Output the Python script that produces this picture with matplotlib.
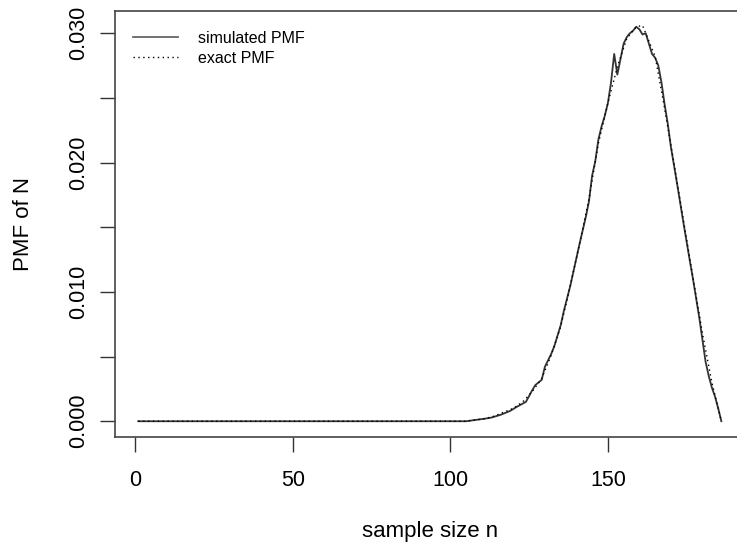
import matplotlib
matplotlib.use('Agg')
import matplotlib.pyplot as plt
import numpy as np

plt.rcParams['font.family'] = ['Liberation Sans', 'DejaVu Sans']

# simulated PMF
sim_n = [1, 105, 108, 111, 113, 116, 119, 121, 124, 126, 127, 129, 130, 132, 133,
         135, 136, 138, 139, 141, 143, 144, 145, 146, 147, 148, 149, 150, 151, 152,
         153, 154, 155, 156, 157, 158, 159, 160, 161, 162, 163, 164, 165, 166, 167,
         168, 169, 170, 172, 174, 176, 177, 179, 181, 182, 183, 184, 185, 186]
sim_pmf = [0.0, 0.0, 0.0001, 0.0002, 0.00028, 0.0005, 0.0008, 0.0011, 0.0015, 0.0024,
           0.0028, 0.0032, 0.0042, 0.0052, 0.0058, 0.0074, 0.0085, 0.0104, 0.0115,
           0.0137, 0.0158, 0.0170, 0.0190, 0.0201, 0.0218, 0.0228, 0.0236, 0.0246,
           0.0262, 0.0284, 0.0268, 0.0280, 0.0292, 0.0297, 0.0300, 0.0302, 0.0305,
           0.0303, 0.0299, 0.0300, 0.0292, 0.0284, 0.0281, 0.0275, 0.0262, 0.0245,
           0.0230, 0.0212, 0.0183, 0.0153, 0.0124, 0.0110, 0.0080, 0.0046, 0.0035,
           0.0026, 0.0019, 0.0010, 0.0]

# exact PMF
exact_n = [1, 105, 108, 111, 114, 117, 120, 123, 126, 129, 132, 135, 138, 141, 144,
           147, 150, 153, 156, 159, 161, 162, 165, 168, 171, 174, 177, 180, 183, 186]
exact_pmf = [0.0, 0.0, 0.0001, 0.0002, 0.0004, 0.0007, 0.0010, 0.0015, 0.0023, 0.0033,
             0.0051, 0.0073, 0.0104, 0.0137, 0.0172, 0.0215, 0.0246, 0.0274, 0.0296,
             0.0305, 0.0306, 0.0300, 0.0282, 0.0242, 0.0199, 0.0155, 0.0111, 0.0068,
             0.0030, 0.0]

fig = plt.figure(figsize=(7.37, 5.46), dpi=100)
ax = fig.add_axes([0.156, 0.1996, 0.8544, 0.7803])

ax.plot(sim_n, sim_pmf, color='#333333', lw=1.3, label='simulated PMF')
ax.plot(exact_n, exact_pmf, color='black', lw=1.0, linestyle=(0, (1, 2.5)), label='exact PMF')

ax.set_xlim(-6.4, 193.4)
ax.set_ylim(-0.00122, 0.03172)

ax.set_xticks([0, 50, 100, 150])
yt = np.arange(0, 0.0301, 0.005)
ax.set_yticks(yt)
ax.set_yticklabels(['0.000', '', '0.010', '', '0.020', '', '0.030'],
                   rotation=90, va='center')

ax.tick_params(direction='out', length=10.5, width=1.0, color='#333333',
               labelsize=15.5, pad=8)
ax.tick_params(axis='x', pad=13)
for s in ax.spines.values():
    s.set_color('#444444')
    s.set_linewidth(1.2)

ax.set_xlabel('sample size n', fontsize=16, va='baseline')
ax.xaxis.set_label_coords(0.5, -0.2347)
ax.set_ylabel('PMF of N', fontsize=16, va='center')
ax.yaxis.set_label_coords(-0.146, 0.5)

leg = ax.legend(loc='upper left', bbox_to_anchor=(0.0286, 0.953), frameon=False,
                fontsize=11.5, handlelength=2.8, handletextpad=1.3,
                labelspacing=0.3, borderpad=0, borderaxespad=0)
leg.get_lines()[0].set_color('#666666')

fig.savefig('out.png', dpi=100)
